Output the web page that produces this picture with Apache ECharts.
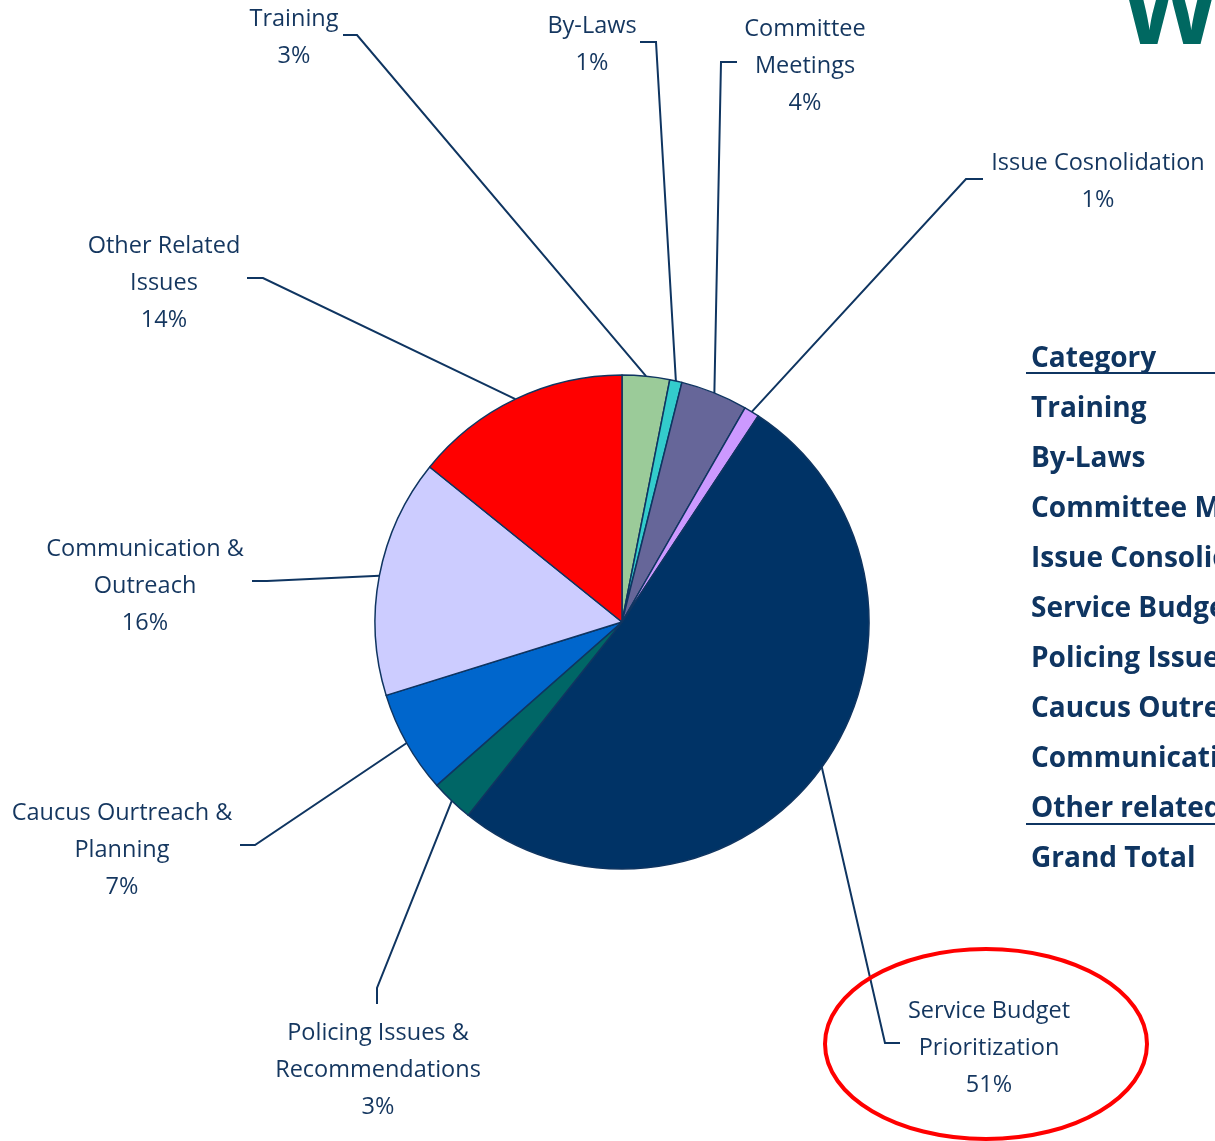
<!DOCTYPE html>
<html>
<head>
<meta charset="utf-8">
<script src="https://cdn.jsdelivr.net/npm/echarts@6/dist/echarts.min.js"></script>
<style>
    html, body { margin: 0; padding: 0; background: #fff; }
    #main { width: 1215px; height: 1141px; }
</style>
</head>
<body>
<div id="main"></div>
<script>
// slice names as they are written on the chart
var categories = ['Training', 'By-Laws', 'Committee\nMeetings', 'Issue Cosnolidation',
    'Service Budget\nPrioritization', 'Policing Issues &\nRecommendations',
    'Caucus Ourtreach &\nPlanning', 'Communication &\nOutreach', 'Other Related\nIssues'];
// share of each slice (%)
var shares = [3.1, 0.8, 4.4, 1.0, 51.4, 2.8, 6.7, 15.6, 14.2];
// rows of the table on the right
var tableRows = ['Training', 'By-Laws', 'Committee Meetings', 'Issue Consolidation',
    'Service Budget Prioritization', 'Policing Issues & Recommendations',
    'Caucus Outreach & Planning', 'Communication & Outreach', 'Other related issues'];
var tableHeader = 'Category';
var tableTotal = 'Grand Total';

var sliceColors = ['#9bcb99', '#33cccc', '#666699', '#cc99ff', '#003366', '#006666', '#0066cc', '#ccccff', '#ff0000'];
var navy = '#14365f';

// where each label sits: [centerX, centerY, lineEndX, lineEndY, elbowX, elbowY]
var labelSpots = [
    [294, 38, 343, 35, 357, 35],
    [592, 45, 640, 42, 656, 42],
    [805, 66, 737, 62, 721, 62],
    [1098, 182, 983, 179, 966, 179],
    [989, 1048, 900, 1043, 885, 1043],
    [378, 1070, 377, 1004, 377, 988],
    [122, 850, 240, 845, 255, 845],
    [145, 586, 252, 581, 267, 581],
    [164, 283, 247, 278, 263, 278]
];

(function() {
    var chart = echarts.init(document.getElementById('main'), null, {renderer: 'canvas'});

    var pieData = [];
    for (var i = 0; i < categories.length; i++) {
        pieData.push({
            name: categories[i],
            value: shares[i],
            itemStyle: {color: sliceColors[i]}
        });
    }

    // table at the right edge (cut off by the page like in the slide)
    var tableFont = 'bold 28px "Open Sans"';
    var graphics = [];
    graphics.push({
        type: 'text', x: 1031, y: 359,
        style: {text: tableHeader, fill: '#0f3561', font: tableFont, verticalAlign: 'middle'}
    });
    for (var r = 0; r < tableRows.length; r++) {
        graphics.push({
            type: 'text', x: 1031, y: 409 + r * 50,
            style: {text: tableRows[r], fill: '#0f3561', font: tableFont, verticalAlign: 'middle'}
        });
    }
    graphics.push({
        type: 'text', x: 1031, y: 859,
        style: {text: tableTotal, fill: '#0f3561', font: tableFont, verticalAlign: 'middle'}
    });
    graphics.push({type: 'line', shape: {x1: 1026, y1: 373, x2: 1215, y2: 373}, style: {stroke: '#0f3561', lineWidth: 2}});
    graphics.push({type: 'line', shape: {x1: 1026, y1: 824, x2: 1215, y2: 824}, style: {stroke: '#0f3561', lineWidth: 2}});
    // title letter poking in at the top-right corner
    graphics.push({
        type: 'text', x: 1122, y: 16,
        style: {text: 'W', fill: '#006861', font: 'bold 100px "Open Sans"', verticalAlign: 'middle'}
    });
    // red highlight ring
    graphics.push({
        type: 'ellipse', z: 10,
        shape: {cx: 986, cy: 1044, rx: 161, ry: 95},
        style: {fill: 'none', stroke: '#ff0000', lineWidth: 4}
    });

    var option = {
        backgroundColor: '#ffffff',
        animation: false,
        graphic: graphics,
        series: [{
            type: 'pie',
            center: [622, 622],
            radius: 247,
            startAngle: 90,
            clockwise: true,
            percentPrecision: 0,
            avoidLabelOverlap: false,
            data: pieData,
            itemStyle: {borderColor: '#0f3561', borderWidth: 1.5},
            label: {
                show: true,
                position: 'outside',
                formatter: '{b}\n{d}%',
                color: navy,
                fontFamily: 'Open Sans',
                fontSize: 23.5,
                lineHeight: 37,
                align: 'center'
            },
            labelLine: {
                show: true,
                smooth: false,
                lineStyle: {color: '#0f3561', width: 2}
            },
            emphasis: {disabled: true},
            labelLayout: function(params) {
                var s = labelSpots[params.dataIndex];
                var start = params.labelLinePoints ? params.labelLinePoints[0] : [s[4], s[5]];
                return {
                    x: s[0],
                    y: s[1],
                    align: 'center',
                    verticalAlign: 'middle',
                    labelLinePoints: [start, [s[4], s[5]], [s[2], s[3]]]
                };
            }
        }]
    };
    chart.setOption(option);
})();
</script>
</body>
</html>
